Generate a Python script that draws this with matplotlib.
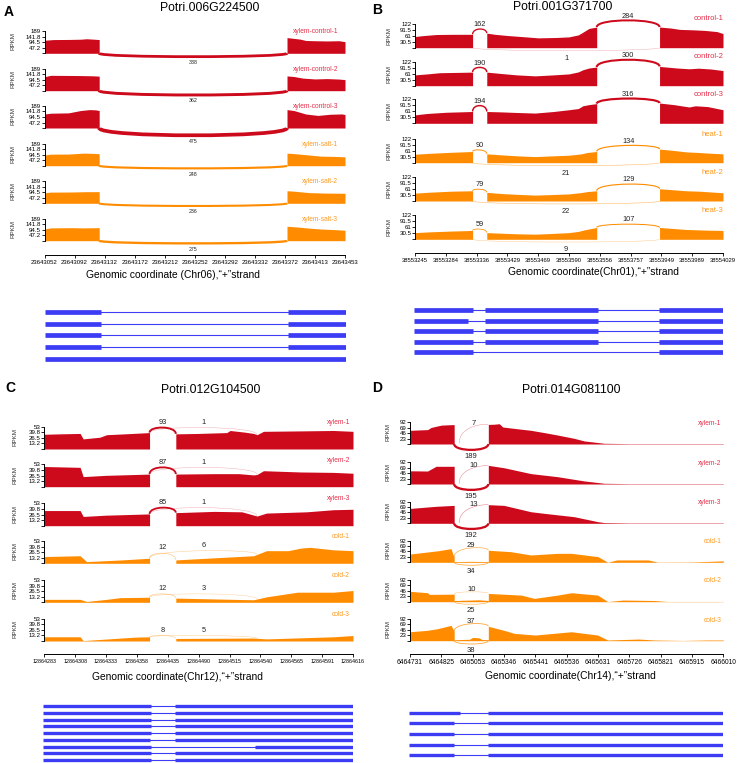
import numpy as np
import matplotlib.pyplot as plt
from matplotlib.path import Path
from matplotlib.patches import PathPatch

plt.rcParams['font.family'] = ['Liberation Sans', 'DejaVu Sans']

W, H = 742, 763
RED = '#cd0a1c'
ORANGE = '#ff8c00'
RED_TXT = '#e4304a'
ORANGE_TXT = '#ff9a20'
BLUE = '#3c3cf4'

# ---------------- panel A : Potri.006G224500 ----------------
a_ticks = ['23643052', '23643092', '23643132', '23643172', '23643212', '23643252',
           '23643292', '23643332', '23643372', '23643413', '23643453']
a_yticks = [47.2, 94.5, 141.8, 189]
a_names = ['xylem-control-1', 'xylem-control-2', 'xylem-control-3',
           'xylem-salt-1', 'xylem-salt-2', 'xylem-salt-3']
a_cov = [
    [[(0, 112), (0.3, 118), (0.8, 119), (1.2, 121), (1.4, 125), (1.6, 122), (1.82, 118)],
     [(8.07, 135), (8.3, 128), (8.5, 122), (8.7, 110), (9.0, 108), (9.4, 106), (9.8, 108), (10, 100)]],
    [[(0, 120), (0.2, 132), (0.8, 131), (1.2, 130), (1.6, 128), (1.82, 125)],
     [(8.07, 127), (8.3, 122), (8.6, 108), (9.0, 101), (9.4, 104), (9.8, 100), (10, 95)]],
    [[(0, 120), (0.2, 127), (0.8, 130), (1.2, 150), (1.5, 158), (1.7, 156), (1.82, 150)],
     [(8.07, 158), (8.3, 150), (8.7, 120), (9.1, 108), (9.5, 118), (9.9, 121), (10, 115)]],
    [[(0, 92), (0.2, 99), (0.8, 100), (1.3, 108), (1.6, 106), (1.82, 103)],
     [(8.07, 108), (8.3, 104), (8.8, 92), (9.2, 82), (9.6, 80), (10, 76)]],
    [[(0, 90), (0.2, 96), (0.9, 97), (1.4, 100), (1.82, 100)],
     [(8.07, 108), (8.3, 104), (8.8, 92), (9.3, 88), (10, 86)]],
    [[(0, 100), (0.2, 110), (0.9, 112), (1.3, 110), (1.82, 112)],
     [(8.07, 124), (8.4, 118), (8.8, 108), (9.2, 100), (9.6, 96), (10, 90)]],
]
# (start, end, junction reads, arc height in RPKM; negative = below the axis)
a_arcs = [
    [(1.82, 8.07, 338, -29)],
    [(1.82, 8.07, 362, -37)],
    [(1.82, 8.07, 475, -63)],
    [(1.82, 8.07, 248, -23)],
    [(1.82, 8.07, 236, -23)],
    [(1.82, 8.07, 275, -23)],
]
a_genes = [[(0, 1.85), (8.08, 10)]] * 4 + [[(0, 10)]]

# ---------------- panel B : Potri.001G371700 ----------------
b_ticks = ['38553245', '38553284', '38553336', '38553429', '38553469', '38553590',
           '38553556', '38553757', '38553949', '38553989', '38554029']
b_yticks = [30.5, 61, 91.5, 122]
b_names = ['control-1', 'control-2', 'control-3', 'heat-1', 'heat-2', 'heat-3']
b_cov = [
    [[(0, 57), (0.3, 62), (0.7, 67), (1.2, 68), (1.87, 68)],
     [(2.33, 74), (2.6, 68), (3.0, 62), (3.6, 55), (4.0, 50), (4.6, 52), (5.0, 55), (5.3, 65),
      (5.4, 74), (5.65, 98), (5.9, 105)],
     [(7.94, 105), (8.3, 100), (8.6, 93), (9.0, 91), (9.4, 88), (9.8, 82), (10, 72)]],
    [[(0, 55), (0.4, 60), (0.8, 66), (1.87, 69)],
     [(2.33, 69), (2.8, 62), (3.3, 55), (3.9, 50), (4.5, 55), (5.0, 60), (5.3, 70), (5.45, 81),
      (5.65, 90), (5.9, 95)],
     [(7.94, 98), (8.5, 90), (8.9, 86), (9.2, 89), (9.6, 85), (10, 77)]],
    [[(0, 43), (0.4, 50), (1.0, 56), (1.87, 60)],
     [(2.33, 60), (2.8, 58), (3.3, 55), (3.9, 52), (4.5, 60), (5.0, 69), (5.3, 75), (5.45, 89),
      (5.65, 95), (5.9, 100)],
     [(7.94, 103), (8.4, 95), (8.9, 83), (9.1, 89), (9.5, 85), (10, 69)]],
    [[(0, 43), (0.5, 48), (1.2, 53), (1.87, 57)],
     [(2.33, 45), (2.8, 40), (3.3, 35), (3.9, 31), (4.5, 35), (5.0, 38), (5.4, 45), (5.6, 52), (5.9, 57)],
     [(7.94, 69), (8.3, 64), (8.8, 55), (9.2, 52), (9.6, 48), (10, 45)]],
    [[(0, 40), (0.5, 45), (1.2, 50), (1.87, 52)],
     [(2.33, 44), (2.8, 38), (3.3, 34), (3.9, 30), (4.5, 33), (5.0, 36), (5.4, 43), (5.6, 48), (5.9, 52)],
     [(7.94, 62), (8.3, 58), (8.8, 52), (9.2, 50), (9.6, 46), (10, 42)]],
    [[(0, 34), (0.5, 38), (1.2, 42), (1.87, 45)],
     [(2.33, 34), (2.8, 31), (3.3, 28), (3.9, 26), (4.5, 30), (5.0, 34), (5.3, 40), (5.5, 48), (5.9, 60)],
     [(7.94, 60), (8.3, 56), (8.8, 50), (9.2, 48), (9.6, 46), (10, 45)]],
]
b_arcs = [
    [(1.87, 2.33, 162, 95), (5.9, 7.94, 284, 139), (1.87, 7.94, 1, -15)],
    [(1.87, 2.33, 190, 93), (5.9, 7.94, 300, 132)],
    [(1.87, 2.33, 194, 90), (5.9, 7.94, 316, 126)],
    [(1.87, 2.33, 90, 65), (5.9, 7.94, 134, 88), (1.87, 7.94, 21, -15)],
    [(1.87, 2.33, 79, 60), (5.9, 7.94, 129, 86), (1.87, 7.94, 22, -15)],
    [(1.87, 2.33, 59, 52), (5.9, 7.94, 107, 77), (1.87, 7.94, 9, -14)],
]
b_genes = [
    [(0, 1.92), (2.3, 5.97), (7.94, 10)],
    [(0, 1.74), (2.3, 5.97), (7.94, 10)],
    [(0, 1.92), (2.3, 5.97), (7.94, 10)],
    [(0, 1.92), (2.3, 5.97), (7.94, 10)],
    [(0, 1.92), (7.94, 10)],
]

# ---------------- panel C : Potri.012G104500 ----------------
c_ticks = ['12864283', '12864308', '12864333', '12864358', '12864435', '12864490',
           '12864515', '12864540', '12864565', '12864591', '12864616']
c_yticks = [13.2, 26.5, 39.8, 53]
c_names = ['xylem-1', 'xylem-2', 'xylem-3', 'cold-1', 'cold-2', 'cold-3']
c_cov = [
    [[(0, 35), (0.5, 36), (1.16, 37), (1.26, 24), (1.8, 28), (2.02, 34), (2.6, 36), (3.41, 39)],
     [(4.26, 36), (5.0, 37), (5.91, 39), (6.02, 44), (6.5, 40), (6.78, 37), (6.89, 34), (7.1, 42),
      (8.29, 43), (9.37, 44), (10, 42)]],
    [[(0, 48), (1.16, 46), (1.26, 24), (2.0, 27), (3.41, 30)],
     [(4.26, 30), (5.5, 31), (6.3, 31), (6.78, 28), (6.89, 29), (7.1, 38), (8.3, 35), (9.37, 34), (10, 32)]],
    [[(0, 36), (1.16, 36), (1.26, 22), (2.0, 25), (3.41, 28)],
     [(4.26, 31), (5.5, 34), (6.4, 33), (6.89, 23), (7.2, 30), (8.5, 33), (9.37, 38), (10, 39)]],
    [[(0, 16), (1.16, 18), (1.37, 4), (2.5, 8), (3.41, 12)],
     [(4.26, 8), (5.5, 13), (6.78, 18), (7.2, 30), (7.9, 30), (8.3, 36), (8.6, 38), (9.37, 32), (10, 30)]],
    [[(0, 7), (1.16, 7), (1.37, 2), (2.02, 7), (2.45, 11), (3.41, 12)],
     [(4.26, 10), (6.13, 7), (6.78, 6), (7.2, 13), (8.2, 24), (9.37, 24), (10, 28)]],
    [[(0, 10), (1.16, 10), (1.26, 1), (2.9, 9), (3.41, 10)],
     [(4.26, 6), (6.78, 7), (7.2, 5), (9.37, 10), (10, 13)]],
]
c_arcs = [
    [(3.41, 4.26, 93, 51), (3.41, 6.89, 1, 51)],
    [(3.41, 4.26, 87, 46), (3.41, 6.89, 1, 46)],
    [(3.41, 4.26, 85, 43), (3.41, 6.89, 1, 43)],
    [(3.41, 4.26, 12, 24), (3.41, 6.89, 6, 30)],
    [(3.41, 4.26, 12, 20), (3.41, 6.89, 3, 20)],
    [(3.41, 4.26, 8, 13), (3.41, 6.89, 5, 13)],
]
c_genes = [[(0, 3.48), (4.26, 10)]] * 5 + [[(0, 3.45), (4.26, 10)], [(0, 3.48), (6.83, 10)]] \
    + [[(0, 3.48), (4.26, 10)]] * 2

# ---------------- panel D : Potri.014G081100 ----------------
d_ticks = ['6464731', '6464825', '6465053', '6465346', '6465441', '6465536',
           '6465631', '6465726', '6465821', '6465915', '6466010']
d_yticks = [23, 46, 69, 92]
d_names = ['xylem-1', 'xylem-2', 'xylem-3', 'cold-1', 'cold-2', 'cold-3']
d_cov = [
    [[(0, 58), (0.56, 61), (0.6, 64), (0.67, 70), (0.83, 75), (1.0, 80), (1.31, 82), (1.41, 82)],
     [(1.41, 2), (2.5, 2)],
     [(2.5, 83), (2.7, 84), (2.85, 86), (2.96, 72), (3.4, 65), (3.86, 58), (4.3, 48), (4.71, 38),
      (5.24, 24), (5.56, 13), (6.2, 3), (7, 1.5), (10, 1.5)]],
    [[(0, 56), (0.56, 55), (0.83, 75), (1.41, 75)],
     [(1.41, 1.5), (2.5, 1.5)],
     [(2.5, 79), (3.0, 69), (3.86, 44), (4.71, 31), (5.56, 13), (6.2, 3), (7, 1.5), (10, 1.5)]],
    [[(0, 63), (0.83, 72), (1.41, 76)],
     [(1.41, 1.5), (2.5, 1.5)],
     [(2.5, 79), (3.0, 76), (3.86, 49), (4.3, 42), (5.24, 28), (5.99, 7), (6.2, 3), (7, 1.5), (10, 1.5)]],
    [[(0, 35), (0.9, 49), (1.31, 58), (1.38, 30), (1.41, 24)],
     [(1.41, 3), (2.0, 4), (2.5, 3)],
     [(2.5, 51), (3.22, 45), (3.86, 31), (4.71, 38), (5.15, 38), (6.0, 24), (6.31, 0.5), (6.6, 10),
      (7.6, 10), (7.9, 1), (9.0, 1.5), (10, 6)]],
    [[(0, 44), (0.56, 38), (0.62, 31), (1.41, 32)],
     [(1.41, 5), (1.7, 6), (2.2, 8), (2.5, 5)],
     [(2.5, 35), (3.55, 28), (3.97, 14), (4.71, 28), (5.15, 38), (5.99, 28), (6.31, 0.5), (6.8, 7),
      (7.8, 5), (8.2, 1), (10, 1)]],
    [[(0, 38), (0.56, 44), (0.88, 51), (1.31, 65), (1.41, 40)],
     [(1.41, 4), (1.9, 6), (2.0, 14), (2.2, 12), (2.3, 5), (2.5, 4)],
     [(2.5, 61), (3.0, 44), (3.33, 31), (4.0, 24), (5.15, 38), (5.99, 24), (6.31, 3), (7.3, 7),
      (7.8, 3), (8.7, 1), (9.5, 3), (10, 3)]],
]
d_arcs = [
    [(1.41, 2.5, 189, -25), (1.57, 2.5, 7, 75)],
    [(1.41, 2.5, 195, -25), (1.57, 2.5, 10, 69)],
    [(1.41, 2.5, 192, -24), (1.57, 2.5, 13, 70)],
    [(1.41, 2.5, 34, -12.5), (1.41, 2.5, 29, 61)],
    [(1.41, 2.5, 25, -11), (1.41, 2.5, 10, 42)],
    [(1.41, 2.5, 38, -14), (1.41, 2.5, 37, 72)],
]
d_genes = [[(0, 1.63), (2.5, 10)]] + [[(0, 1.44), (2.5, 10)]] * 4

colours = [RED, RED, RED, ORANGE, ORANGE, ORANGE]
name_colours = [RED_TXT, RED_TXT, RED_TXT, ORANGE_TXT, ORANGE_TXT, ORANGE_TXT]

fig = plt.figure(figsize=(W / 100, H / 100), dpi=100)


def box(x0, y0, x1, y1):
    return [x0 / W, 1 - y1 / H, (x1 - x0) / W, (y1 - y0) / H]


def ftext(x, y, s, **kw):
    fig.text(x / W, 1 - y / H, s, **kw)


def level(segs, x):
    vals = [np.interp(x, [p[0] for p in s], [p[1] for p in s])
            for s in segs if s[0][0] - 1e-9 <= x <= s[-1][0] + 1e-9]
    return max(vals) if vals else 0


def arc(ax, x1, x2, y1, y2, peak, lw, col, alpha):
    c = (peak - (y1 + y2) / 8) * 4 / 3
    p = Path([(x1, y1), (x1, c), (x2, c), (x2, y2)],
             [Path.MOVETO, Path.CURVE4, Path.CURVE4, Path.CURVE4])
    ax.add_patch(PathPatch(p, fill=False, lw=lw, ec=col, alpha=alpha, clip_on=False))


def panel(L, ticks, yticks, names, cov, arcs, genes):
    ymax = yticks[-1]
    s = ymax / L['top']
    for i in range(6):
        yb = L['base'][i]
        ax = fig.add_axes(box(L['x0'], yb - 35, L['x1'], yb + 15))
        ax.set_xlim(0, 10)
        ax.set_ylim(-15 * s, 35 * s)
        ax.patch.set_visible(False)
        for sp in ['top', 'right', 'bottom']:
            ax.spines[sp].set_visible(False)
        ax.spines['left'].set_bounds(0, ymax)
        ax.spines['left'].set_linewidth(0.7)
        ax.set_xticks([])
        ax.set_yticks([0] + yticks)
        ax.set_yticklabels([''] + [f'{v:g}' for v in yticks])
        ax.tick_params(axis='y', length=2, width=0.6, labelsize=4.4, pad=0.5)
        for seg in cov[i]:
            ax.fill_between([p[0] for p in seg], 0, [p[1] for p in seg],
                            color=colours[i], lw=0, clip_on=False)
        for x1, x2, n, peak in arcs[i]:
            lw = 0.3 + L['lwk'] * n
            alpha = min(1.0, 0.35 + n / 80)
            if peak < 0:
                y1 = y2 = 0
                ty = peak - L['below'] * s
            else:
                y1, y2 = level(cov[i], x1), level(cov[i], x2)
                ty = peak + L['above'] * s
            arc(ax, x1, x2, y1, y2, peak, lw, colours[i], alpha)
            ax.text((x1 + x2) / 2, ty, str(n), ha='center', va='center',
                    fontsize=L['afs'], color='#222222')
        ftext(L['x1'] - L['nx'], yb - L['ny'], names[i], ha='right', va='center',
              fontsize=L['nfs'], color=name_colours[i])
        ftext(L['rx'], yb - 12, 'RPKM', rotation=90, ha='center', va='center',
              fontsize=4.5, color='#333333')

    xa = fig.add_axes(box(L['x0'], L['xaxis'] - 4, L['x1'], L['xaxis']))
    xa.set_xlim(0, 10)
    xa.patch.set_visible(False)
    for sp in ['top', 'right', 'left']:
        xa.spines[sp].set_visible(False)
    xa.spines['bottom'].set_linewidth(0.7)
    xa.set_yticks([])
    xa.set_xticks(range(11))
    xa.set_xticklabels(ticks)
    xa.tick_params(axis='x', length=2.5, width=0.6, labelsize=L['tfs'], pad=1.2)
    ftext(L['xl'][0], L['xl'][1], 'Genomic coordinate' + L['chrom'] + ',\u201c+\u201dstrand',
          ha='center', va='center', fontsize=7.4)
    ftext(L['title'][0], L['title'][1], L['name'], ha='center', va='center', fontsize=8.8)
    ftext(L['letter'][0], L['letter'][1], L['tag'], ha='left', va='center',
          fontsize=10, fontweight='bold')

    rows = L['rows']
    sp_ = (rows[-1] - rows[0]) / (len(rows) - 1)
    ga = fig.add_axes(box(L['g'][0], rows[0] - sp_ / 2, L['g'][1], rows[-1] + sp_ / 2))
    ga.set_xlim(0, 10)
    ga.set_ylim(len(rows) - 0.5, -0.5)
    ga.axis('off')
    for r, exons in enumerate(genes):
        if len(exons) > 1:
            ga.plot([exons[0][1], exons[-1][0]], [r, r], color=BLUE, lw=0.8)
        for e0, e1 in exons:
            ga.plot([e0, e1], [r, r], color=BLUE, lw=L['elw'], solid_capstyle='butt')


LA = dict(tag='A', name='Potri.006G224500', chrom=' (Chr06)', x0=44.5, x1=345,
          base=[53.3, 90.7, 128, 165.7, 203.3, 240.7], top=22, xaxis=255,
          xl=(173, 275), title=(210, 8), letter=(4, 12), rx=13, nx=7, ny=21.6, nfs=4.8,
          afs=3.8, above=4.5, below=5.7, lwk=0.005, tfs=4.3, g=(45, 346),
          rows=[311.7, 323.7, 335.7, 347.5, 359.3], elw=3.4)
LB = dict(tag='B', name='Potri.001G371700', chrom='(Chr01)', x0=415, x1=723,
          base=[47.7, 85.7, 123.3, 162.7, 201, 239.3], top=24, xaxis=253,
          xl=(594, 272), title=(563, 7), letter=(372, 10), rx=389, nx=0, ny=28.7, nfs=5.5,
          afs=5.3, above=4.3, below=7.5, lwk=0.004, tfs=4.2, g=(414, 723),
          rows=[310, 320.6, 331.2, 341.8, 352.4], elw=3.4)
LC = dict(tag='C', name='Potri.012G104500', chrom='(Chr12)', x0=44.3, x1=353,
          base=[449, 486.7, 525.7, 563.3, 602.3, 641], top=22.3, xaxis=654.3,
          xl=(178, 676.7), title=(211, 390), letter=(5, 388), rx=15, nx=3, ny=26.7, nfs=4.8,
          afs=5.3, above=5.3, below=6.5, lwk=0.012, tfs=3.9, g=(43.3, 353.3),
          rows=[706, 713, 719.8, 726.5, 733.2, 740, 746.7, 753.4, 760], elw=2.4)
LD = dict(tag='D', name='Potri.014G081100', chrom='(Chr14)', x0=410, x1=723.3,
          base=[444, 484, 523.3, 562.3, 601.7, 640.7], top=21.7, xaxis=654,
          xl=(570, 676), title=(571, 390), letter=(372, 388), rx=388, nx=2, ny=20.7, nfs=4.8,
          afs=5.5, above=2.5, below=6.7, lwk=0.007, tfs=4.8, g=(409, 723),
          rows=[712.7, 723.4, 734, 744.6, 755.3], elw=2.4)

panel(LA, a_ticks, a_yticks, a_names, a_cov, a_arcs, a_genes)
panel(LB, b_ticks, b_yticks, b_names, b_cov, b_arcs, b_genes)
panel(LC, c_ticks, c_yticks, c_names, c_cov, c_arcs, c_genes)
panel(LD, d_ticks, d_yticks, d_names, d_cov, d_arcs, d_genes)

fig.savefig('out.png', dpi=100)
